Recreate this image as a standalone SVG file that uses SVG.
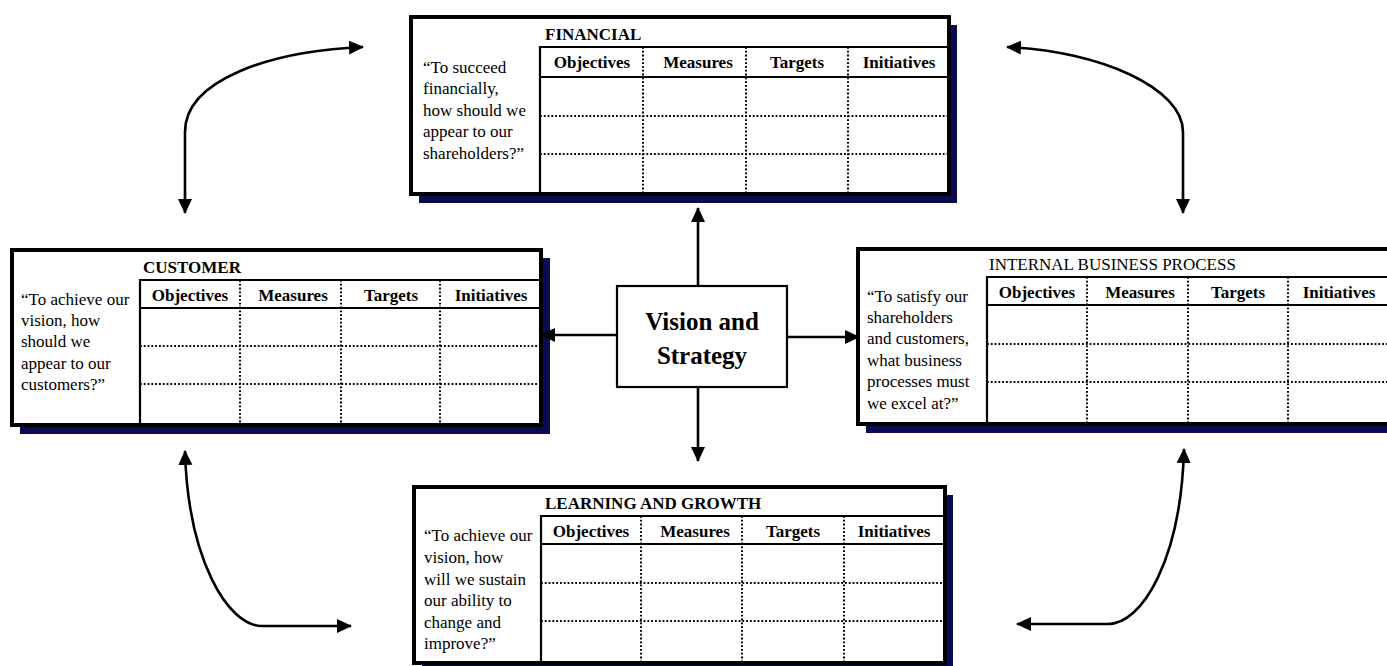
<svg xmlns="http://www.w3.org/2000/svg" width="1387" height="666" viewBox="0 0 1387 666">
  <style>
    .shadow { fill: #0b0b52; }
    .frame { fill: #ffffff; stroke: #000; stroke-width: 4; }
    .rule { stroke: #000; stroke-width: 2.2; fill: none; }
    .dot { stroke: #000; stroke-width: 2; stroke-dasharray: 1.8 2; fill: none; }
    .title { font-family: "Liberation Serif", "Times New Roman", serif; font-size: 17px; font-weight: bold; fill: #000; }
    .title-reg { font-family: "Liberation Serif", "Times New Roman", serif; font-size: 17px; fill: #000; }
    .col { font-family: "Liberation Serif", "Times New Roman", serif; font-size: 17px; font-weight: bold; fill: #000; text-anchor: middle; }
    .quote { font-family: "Liberation Serif", "Times New Roman", serif; font-size: 17px; fill: #000; }
    .center { font-family: "Liberation Serif", "Times New Roman", serif; font-size: 25px; font-weight: bold; fill: #000; text-anchor: middle; }
    .link { stroke: #000; stroke-width: 2.6; fill: none; marker-end: url(#head); }
    .link2 { stroke: #000; stroke-width: 2.6; fill: none; marker-start: url(#head); marker-end: url(#head); }
  </style>
  <defs>
    <marker id="head" markerUnits="userSpaceOnUse" markerWidth="16" markerHeight="16" viewBox="0 0 16 16" refX="14" refY="8" orient="auto-start-reverse">
      <path d="M0,1 L15,8 L0,15 z" fill="#000"/>
    </marker>
  </defs>

  <rect width="1387" height="666" fill="#ffffff"/>

  <!-- Financial perspective -->
  <g id="financial">
    <rect class="shadow" x="419" y="25" width="538" height="178"/>
    <rect class="frame" x="411" y="17" width="538" height="177"/>
    <path class="rule" d="M540 194 V47 H949 M540 77 H949"/>
    <path class="dot" d="M540 116 H949 M540 154 H949 M643 47 V194 M746 47 V194 M848 47 V194"/>
    <text class="title" x="545" y="40">FINANCIAL</text>
    <text class="col" x="592" y="68">Objectives</text>
    <text class="col" x="698" y="68">Measures</text>
    <text class="col" x="797" y="68">Targets</text>
    <text class="col" x="899" y="68">Initiatives</text>
    <text class="quote" x="423" y="73">“To succeed</text>
    <text class="quote" x="423" y="94">financially,</text>
    <text class="quote" x="423" y="116">how should we</text>
    <text class="quote" x="423" y="137">appear to our</text>
    <text class="quote" x="423" y="159">shareholders?”</text>
  </g>

  <!-- Customer perspective -->
  <g id="customer">
    <rect class="shadow" x="20" y="258" width="530" height="176"/>
    <rect class="frame" x="12" y="250" width="529" height="175"/>
    <path class="rule" d="M140 425 V280 H541 M140 308 H541"/>
    <path class="dot" d="M140 346 H541 M140 384 H541 M240 280 V425 M341 280 V425 M440 280 V425"/>
    <text class="title" x="143" y="273">CUSTOMER</text>
    <text class="col" x="190" y="301">Objectives</text>
    <text class="col" x="293" y="301">Measures</text>
    <text class="col" x="391" y="301">Targets</text>
    <text class="col" x="491" y="301">Initiatives</text>
    <text class="quote" x="21" y="305">“To achieve our</text>
    <text class="quote" x="21" y="326">vision, how</text>
    <text class="quote" x="21" y="347">should we</text>
    <text class="quote" x="21" y="369">appear to our</text>
    <text class="quote" x="21" y="390">customers?”</text>
  </g>

  <!-- Internal business process perspective -->
  <g id="internal">
    <rect class="shadow" x="866" y="257" width="540" height="176"/>
    <rect class="frame" x="858" y="249" width="540" height="175"/>
    <path class="rule" d="M987 424 V277 H1398 M987 305 H1398"/>
    <path class="dot" d="M987 344 H1398 M987 382 H1398 M1087 277 V424 M1188 277 V424 M1288 277 V424"/>
    <text class="title-reg" x="989" y="270">INTERNAL BUSINESS  PROCESS</text>
    <text class="col" x="1037" y="298">Objectives</text>
    <text class="col" x="1140" y="298">Measures</text>
    <text class="col" x="1238" y="298">Targets</text>
    <text class="col" x="1339" y="298">Initiatives</text>
    <text class="quote" x="867" y="302">“To satisfy our</text>
    <text class="quote" x="867" y="323">shareholders</text>
    <text class="quote" x="867" y="344">and customers,</text>
    <text class="quote" x="867" y="366">what business</text>
    <text class="quote" x="867" y="387">processes must</text>
    <text class="quote" x="867" y="409">we excel at?”</text>
  </g>

  <!-- Learning and growth perspective -->
  <g id="learning">
    <rect class="shadow" x="422" y="495" width="531" height="180"/>
    <rect class="frame" x="414" y="487" width="531" height="176"/>
    <path class="rule" d="M541 663 V516 H945 M541 544 H945"/>
    <path class="dot" d="M541 583 H945 M541 621 H945 M641 516 V663 M742 516 V663 M844 516 V663"/>
    <text class="title" x="545" y="509">LEARNING AND GROWTH</text>
    <text class="col" x="591" y="537">Objectives</text>
    <text class="col" x="695" y="537">Measures</text>
    <text class="col" x="793" y="537">Targets</text>
    <text class="col" x="894" y="537">Initiatives</text>
    <text class="quote" x="424" y="541">“To achieve our</text>
    <text class="quote" x="424" y="563">vision, how</text>
    <text class="quote" x="424" y="585">will we sustain</text>
    <text class="quote" x="424" y="606">our ability to</text>
    <text class="quote" x="424" y="628">change and</text>
    <text class="quote" x="424" y="649">improve?”</text>
  </g>

  <!-- Vision and strategy hub -->
  <g id="vision">
    <rect x="617" y="286" width="170" height="101" fill="#fff" stroke="#000" stroke-width="2.2"/>
    <text class="center" x="702" y="330">Vision and</text>
    <text class="center" x="702" y="364">Strategy</text>
  </g>

  <!-- Connectors -->
  <g id="connectors">
    <path class="link" d="M698 286 V208"/>
    <path class="link" d="M698 387 V461"/>
    <path class="link" d="M617 335 H541"/>
    <path class="link" d="M787 337 H859"/>
    <path class="link2" d="M185 213 V132 C185 80 270 51 363 47"/>
    <path class="link2" d="M1007 47 C1100 51 1183 88 1183 132 V213"/>
    <path class="link2" d="M185 451 C188 560 228 626 262 626 H351"/>
    <path class="link2" d="M1184 449 C1181 560 1142 624 1108 624 H1017"/>
  </g>
</svg>
